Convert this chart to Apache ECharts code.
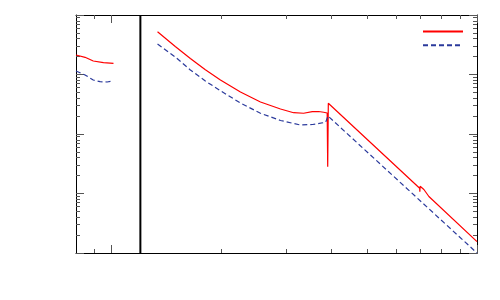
<!DOCTYPE html>
<html>
<head>
<meta charset="utf-8">
<script src="https://cdn.jsdelivr.net/npm/echarts@6/dist/echarts.min.js"></script>
<style>html,body{margin:0;padding:0;background:#fff}#c{width:500px;height:300px}</style>
</head>
<body>
<div id="c"></div>
<script>
// Series A (red, solid): two segments separated by a gap
const redX1 = [0.8, 0.847, 0.892, 0.951, 1.013];
const redY1 = [0.213, 0.1946, 0.1686, 0.158, 0.1543];
const redX2 = [1.337, 1.495, 1.644, 1.807, 1.987, 2.254, 2.557, 2.901, 3.150, 3.355, 3.544, 3.688, 3.806, 3.892, 3.905, 3.92, 6.969, 6.977, 6.99, 7.157, 7.386, 10];
const redY2 = [0.524, 0.2955, 0.1857, 0.120, 0.0808, 0.0508, 0.0345, 0.0263, 0.0228, 0.0223, 0.0237, 0.0239, 0.0232, 0.02254, 0.00282, 0.0328, 0.001223, 0.001069, 0.001321, 0.001167, 0.000891, 0.000155];
// Series B (blue, dashed)
const blueX1 = [0.8, 0.847, 0.892, 0.931, 0.973, 1.013];
const blueY1 = [0.1146, 0.0982, 0.0808, 0.0757, 0.0748, 0.0778];
const blueX2 = [1.337, 1.495, 1.644, 1.807, 1.987, 2.254, 2.557, 2.901, 3.292, 3.55, 3.73, 3.855, 3.911, 3.92, 10];
const blueY2 = [0.3256, 0.197, 0.119, 0.0778, 0.0534, 0.0332, 0.0223, 0.01687, 0.01416, 0.01445, 0.0152, 0.01574, 0.0201, 0.0213, 0.0001];
// Vertical separator position
const sepX = 1.2;
// Tick values
const xMajor = [1, 10];
const xMinor = [0.9, 2, 3, 4, 5, 6, 7, 8, 9];
const yMajor = [1e-4, 1e-3, 1e-2, 1e-1, 1];
const yMinor = [];
[1e-4, 1e-3, 1e-2, 1e-1].forEach(d => { for (let k = 2; k <= 9; k++) yMinor.push(+(d * k).toPrecision(3)); });

function zip(xs, ys) { return xs.map((x, i) => [x, ys[i]]); }
const redData = zip(redX1, redY1).concat([['-', '-']], zip(redX2, redY2));
const blueData = zip(blueX1, blueY1).concat([['-', '-']], zip(blueX2, blueY2));

const tickColor = '#555';
function xAx(pos, vals, len, showLine) {
  return {
    type: 'log', logBase: 10, min: 0.8, max: 10, position: pos,
    axisLine: { show: showLine, onZero: false, lineStyle: { color: '#000', width: 1 } },
    axisTick: { show: true, inside: true, length: len, customValues: vals, lineStyle: { color: tickColor, width: 1 } },
    axisLabel: { show: false }, splitLine: { show: false }, minorTick: { show: false }
  };
}
function yAx(pos, vals, len, showLine) {
  return {
    type: 'log', logBase: 10, min: 1e-4, max: 1, position: pos,
    axisLine: { show: showLine, onZero: false, lineStyle: { color: '#000', width: 1 } },
    axisTick: { show: true, inside: true, length: len, customValues: vals, lineStyle: { color: tickColor, width: 1 } },
    axisLabel: { show: false }, splitLine: { show: false }, minorTick: { show: false }
  };
}

const chart = echarts.init(document.getElementById('c'), null, { renderer: 'canvas' });
chart.setOption({
  animation: false,
  backgroundColor: '#fff',
  grid: { left: 76, top: 15, right: 23, bottom: 47 },
  legend: {
    data: ['A', 'B'], orient: 'vertical', left: 422, top: 25, padding: 0,
    itemWidth: 40, itemHeight: 13, itemGap: 2,
    itemStyle: { opacity: 0 },
    formatter: () => '', textStyle: { fontSize: 1 }
  },
  xAxis: [xAx('bottom', xMajor, 8, true), xAx('bottom', xMinor, 4, false), xAx('top', xMajor, 8, true), xAx('top', xMinor, 4, false)],
  yAxis: [yAx('left', yMajor, 8, true), yAx('left', yMinor, 4, false), yAx('right', yMajor, 8, true), yAx('right', yMinor, 4, false)],
  series: [
    { name: 'A', type: 'line', data: redData, symbol: 'none', connectNulls: false,
      lineStyle: { color: '#ff0000', width: 1.2 }, itemStyle: { color: '#ff0000' } },
    { name: 'B', type: 'line', data: blueData, symbol: 'none', connectNulls: false,
      lineStyle: { color: '#2b3a9c', width: 1.2, type: [5, 3] }, itemStyle: { color: '#2b3a9c' } },
    { name: 'sep', type: 'line', data: [[sepX, 1e-4], [sepX, 1]], symbol: 'none',
      lineStyle: { color: '#000', width: 2 } }
  ]
});
</script>
</body>
</html>
